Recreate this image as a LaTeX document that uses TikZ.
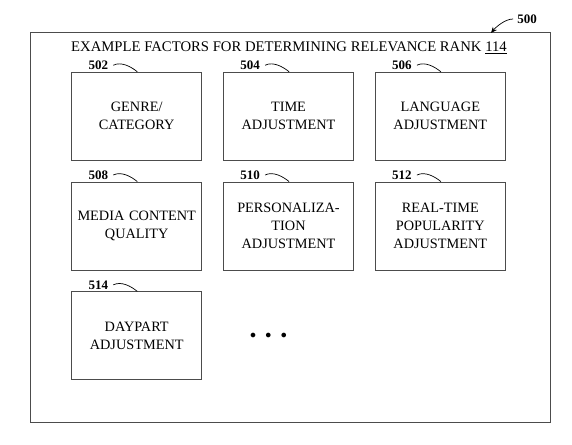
\documentclass[tikz,border=0pt]{standalone}
\usepackage{fontspec}
\setmainfont{Liberation Serif}
\usetikzlibrary{arrows.meta,matrix,positioning,calc}

\tikzset{
factor/.style={draw=black!70,line width=0.8pt,minimum width=130pt,minimum height=88pt,
  text width=124pt,align=center,font=\fontsize{14.3}{18}\selectfont,inner sep=0pt},
refnum/.style={font=\bfseries\fontsize{13}{13}\selectfont,inner sep=1pt},
lead/.style={line width=0.7pt}
}

\begin{document}
\begin{tikzpicture}[x=1pt,y=-1pt]
\useasboundingbox (0,0) rectangle (572,444);
\draw[draw=black!70,line width=0.8pt] (30,32) rectangle (550,422);
\node[font=\fontsize{14.7}{16}\selectfont] (title) at (289,48)
  {EXAMPLE FACTORS FOR DETERMINING RELEVANCE RANK \underline{114}};
\matrix (m) at (288.5,226) [column sep=21pt,row sep=21pt]
{
\node [factor] (f502) {GENRE/\\CATEGORY}; &
\node [factor] (f504) {TIME\\ADJUSTMENT}; &
\node [factor] (f506) {LANGUAGE\\ADJUSTMENT}; \\
\node [factor] (f508) {MEDIA CONTENT\\QUALITY}; &
\node [factor] (f510) {PERSONALIZA-\\TION\\ADJUSTMENT}; &
\node [factor] (f512) {REAL-TIME\\POPULARITY\\ADJUSTMENT}; \\
\node [factor] (f514) {DAYPART\\ADJUSTMENT}; &
\node [font=\large,xshift=-20pt] (dots) {$\bullet\;\;\bullet\;\;\bullet$}; & \\
};
% reference numbers
\foreach \n in {502,504,506,508,510,512,514}
{
\node [refnum,anchor=south east] (l\n) at ($(f\n.north west)+(38,-1)$) {\n};
\draw [lead] ([xshift=4pt]l\n.east) .. controls +(8,-4) and +(-6,-5) .. ($(f\n.north west)+(66,0)$);
}
\node [refnum] (l500) at (527,19) {500};
\draw [lead,-{Stealth[length=6pt,width=5pt]}] ([xshift=-3pt]l500.west) .. controls +(-8,0) and +(5,-6) .. (491,33);
\end{tikzpicture}
\end{document}
